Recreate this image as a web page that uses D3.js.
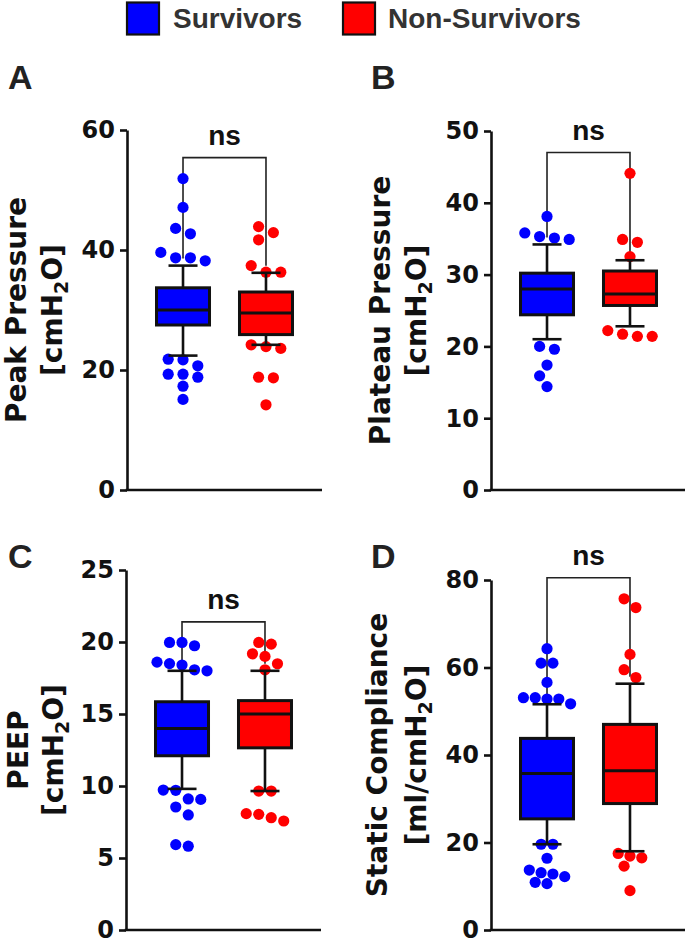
<!DOCTYPE html>
<html><head><meta charset="utf-8">
<script src="https://cdn.jsdelivr.net/npm/d3@7"></script>
<style>
html,body{margin:0;padding:0;background:#fff;}
svg{display:block;}
</style></head>
<body>
<svg id="chart" width="685" height="944"></svg>
<script>
// ---------- DATA ----------
const groups = ["Survivors", "Non-Survivors"];
const groupColors = ["#0000ff", "#ff0000"];

// box stats: [whiskerLow, q1, median, q3, whiskerHigh]
const peakSurvBox = [22.4, 27.5, 30.0, 33.7, 37.4];
const peakNonBox  = [24.2, 25.9, 29.5, 33.0, 36.2];
const peakSurvPts = [51.9, 47.1, 43.6, 42.7, 39.6, 38.7, 38.7, 38.2, 21.8, 21.7, 20.7, 19.3, 19.3, 18.8, 17.3, 15.1];
const peakNonPts  = [43.9, 42.9, 41.7, 37.4, 36.3, 36.3, 24.2, 23.9, 23.6, 18.8, 18.7, 14.2];

const plateauSurvBox = [21.0, 24.4, 28.0, 30.2, 34.2];
const plateauNonBox  = [22.8, 25.7, 27.3, 30.5, 32.0];
const plateauSurvPts = [38.1, 35.8, 35.3, 35.1, 34.9, 20.0, 19.6, 17.4, 15.9, 14.4];
const plateauNonPts  = [44.1, 34.9, 34.5, 32.5, 22.2, 21.7, 21.4, 21.4];

const peepSurvBox = [9.8, 12.1, 14.0, 15.85, 18.0];
const peepNonBox  = [9.65, 12.65, 15.0, 15.93, 18.0];
const peepSurvPts = [19.97, 19.97, 19.74, 18.6, 18.5, 18.4, 18.07, 18.0, 9.72, 9.7, 9.1, 9.07, 8.54, 7.99, 5.93, 5.82];
const peepNonPts  = [19.97, 19.85, 19.18, 19.0, 18.49, 18.07, 9.65, 9.65, 8.08, 8.03, 7.8, 7.57];

const complSurvBox = [19.6, 25.4, 35.8, 43.8, 51.6];
const complNonBox  = [18.0, 28.9, 36.4, 47.0, 56.3];
const complSurvPts = [64.3, 61.0, 61.0, 56.6, 53.1, 53.1, 52.8, 52.8, 51.7, 19.6, 19.6, 16.4, 13.7, 13.1, 12.8, 12.2, 10.9, 10.6];
const complNonPts  = [75.7, 73.7, 63.0, 59.5, 57.7, 17.5, 16.9, 16.5, 14.6, 9.0];

const peakTicks = [0, 20, 40, 60];
const plateauTicks = [0, 10, 20, 30, 40, 50];
const peepTicks = [0, 5, 10, 15, 20, 25];
const complTicks = [0, 20, 40, 60, 80];

const sigLabels = ["ns", "ns", "ns", "ns"];
const bracketValues = [55.4, 47.0, 21.4, 80.5];
const panelLetters = ["A", "B", "C", "D"];
const titles1 = ["Peak Pressure", "Plateau Pressure", "PEEP", "Static Compliance"];
const titles2pre = ["[cmH", "[cmH", "[cmH", "[ml/cmH"];

// ---------- LAYOUT ----------
const svg = d3.select("#chart");
const FONT_SANS = "'Liberation Sans', Arial, Helvetica, sans-serif";
const FONT_WIDE = "'DejaVu Sans', Verdana, sans-serif";

const panels = [
  {box:[peakSurvBox, peakNonBox], pts:[peakSurvPts, peakNonPts], ticks:peakTicks, domain:[0,60], axisX:127, y0:490, y1:130, letterX:8, letterY:89, t1x:26, t2x:62, spacing:14.8},
  {box:[plateauSurvBox, plateauNonBox], pts:[plateauSurvPts, plateauNonPts], ticks:plateauTicks, domain:[0,50], axisX:491, y0:490, y1:131, letterX:371, letterY:89, t1x:390, t2x:426, spacing:14.8},
  {box:[peepSurvBox, peepNonBox], pts:[peepSurvPts, peepNonPts], ticks:peepTicks, domain:[0,25], axisX:126, y0:930, y1:570, letterX:8, letterY:568, t1x:28, t2x:63, spacing:12.5},
  {box:[complSurvBox, complNonBox], pts:[complSurvPts, complNonPts], ticks:complTicks, domain:[0,80], axisX:491, y0:930, y1:580, letterX:371, letterY:568, t1x:387, t2x:426, spacing:11.8}
];

const R = 5.6, ROW_H = 10;
const BOX_W = 53, CAP_W = 29, LW = 2.6;

// row-based dot-plot arrangement (points of similar value share a row, centred)
function swarm(vals, yScale, spacing) {
  const pts = vals.map(v => ({v, py: yScale(v)})).sort((a, b) => a.py - b.py);
  const rows = [];
  pts.forEach(p => {
    const last = rows[rows.length - 1];
    if (last && p.py - last[0].py <= ROW_H) last.push(p); else rows.push([p]);
  });
  const placed = [];
  rows.forEach(row => {
    const n = row.length;
    const shifts = [0, -spacing / 2, spacing / 2, -spacing, spacing];
    let done = false;
    for (const sh of shifts) {
      const offs = row.map((p, i) => (i - (n - 1) / 2) * spacing + sh);
      const ok = row.every((p, i) => placed.every(q => Math.hypot(q.off - offs[i], q.py - p.py) >= 2 * R));
      if (ok) { row.forEach((p, i) => p.off = offs[i]); done = true; break; }
    }
    if (!done) row.forEach((p, i) => p.off = (i - (n - 1) / 2) * spacing);
    placed.push(...row);
  });
  return pts;
}

// ---------- LEGEND ----------
const legendX = [127, 343];
const legendTextX = [173, 388];
groups.forEach((gname, i) => {
  svg.append("rect").attr("x", legendX[i]).attr("y", 2.5).attr("width", 32).attr("height", 32)
    .attr("fill", groupColors[i]).attr("stroke", "#111").attr("stroke-width", 2.2);
  svg.append("text").attr("x", legendTextX[i]).attr("y", 27.5).text(gname)
    .attr("font-family", FONT_SANS).attr("font-weight", "bold").attr("font-size", 28).attr("fill", "#333");
});

// ---------- PANELS ----------
panels.forEach((cfg, pi) => {
  const y = d3.scaleLinear().domain(cfg.domain).range([cfg.y0, cfg.y1]);
  const x = d3.scalePoint().domain(groups).range([cfg.axisX, cfg.axisX + 195]).padding(0.675);
  const g = svg.append("g");

  // panel letter
  g.append("text").attr("x", cfg.letterX).attr("y", cfg.letterY).text(panelLetters[pi])
    .attr("font-family", FONT_SANS).attr("font-weight", "bold").attr("font-size", 34).attr("fill", "#222");

  // y-axis
  const axis = d3.axisLeft(y).tickValues(cfg.ticks).tickSize(7).tickPadding(5).tickSizeOuter(0);
  const ax = g.append("g").attr("transform", `translate(${cfg.axisX},0)`).call(axis);
  ax.select(".domain").attr("stroke", "#111").attr("stroke-width", LW);
  ax.selectAll(".tick line").attr("stroke", "#111").attr("stroke-width", LW);
  ax.selectAll(".tick text").attr("font-family", FONT_WIDE).attr("font-weight", "bold")
    .attr("font-size", 24).attr("fill", "#111").attr("dy", "0.33em");

  // x baseline
  g.append("line").attr("x1", cfg.axisX - LW / 2).attr("x2", cfg.axisX + 195)
    .attr("y1", y(0)).attr("y2", y(0)).attr("stroke", "#111").attr("stroke-width", LW);

  // y titles
  const midY = (cfg.y0 + cfg.y1) / 2;
  g.append("text").attr("transform", `translate(${cfg.t1x},${midY}) rotate(-90)`)
    .attr("text-anchor", "middle").attr("font-family", FONT_WIDE).attr("font-weight", "bold")
    .attr("font-size", 28).attr("fill", "#111").text(titles1[pi]);
  const t2 = g.append("text").attr("transform", `translate(${cfg.t2x},${midY}) rotate(-90)`)
    .attr("text-anchor", "middle").attr("font-family", FONT_WIDE).attr("font-weight", "bold")
    .attr("font-size", 28).attr("fill", "#111");
  t2.append("tspan").text(titles2pre[pi]);
  t2.append("tspan").text("2").attr("font-size", 19).attr("dy", 6);
  t2.append("tspan").text("O]").attr("dy", -6);

  // significance bracket
  const by = y(bracketValues[pi]);
  const xs = groups.map(gn => x(gn));
  const legEnd = cfg.box.map(b => y(b[4]) - 7);
  g.append("path")
    .attr("d", `M${xs[0]},${legEnd[0]} V${by} H${xs[1]} V${legEnd[1]}`)
    .attr("fill", "none").attr("stroke", "#222").attr("stroke-width", 1.6);
  g.append("text").attr("x", (xs[0] + xs[1]) / 2).attr("y", by - 13).attr("text-anchor", "middle")
    .attr("font-family", FONT_SANS).attr("font-weight", "bold").attr("font-size", 28).attr("fill", "#111")
    .text(sigLabels[pi]);

  groups.forEach((gn, gi) => {
    const cx = x(gn);
    const b = cfg.box[gi];
    // points
    const sw = swarm(cfg.pts[gi], y, cfg.spacing);
    g.append("g").selectAll("circle").data(sw).join("circle")
      .attr("cx", d => cx + d.off).attr("cy", d => d.py).attr("r", R)
      .attr("fill", groupColors[gi]);
    // whiskers
    const wg = g.append("g").attr("stroke", "#111").attr("stroke-width", LW);
    wg.append("line").attr("x1", cx).attr("x2", cx).attr("y1", y(b[0])).attr("y2", y(b[1]));
    wg.append("line").attr("x1", cx).attr("x2", cx).attr("y1", y(b[3])).attr("y2", y(b[4]));
    wg.append("line").attr("x1", cx - CAP_W / 2).attr("x2", cx + CAP_W / 2).attr("y1", y(b[0])).attr("y2", y(b[0]));
    wg.append("line").attr("x1", cx - CAP_W / 2).attr("x2", cx + CAP_W / 2).attr("y1", y(b[4])).attr("y2", y(b[4]));
    // box
    g.append("rect").attr("x", cx - BOX_W / 2).attr("width", BOX_W)
      .attr("y", y(b[3])).attr("height", y(b[1]) - y(b[3]))
      .attr("fill", groupColors[gi]).attr("stroke", "#111").attr("stroke-width", LW + 0.4);
    g.append("line").attr("x1", cx - BOX_W / 2).attr("x2", cx + BOX_W / 2)
      .attr("y1", y(b[2])).attr("y2", y(b[2])).attr("stroke", "#111").attr("stroke-width", LW + 0.4);
  });
});
</script>
</body></html>
